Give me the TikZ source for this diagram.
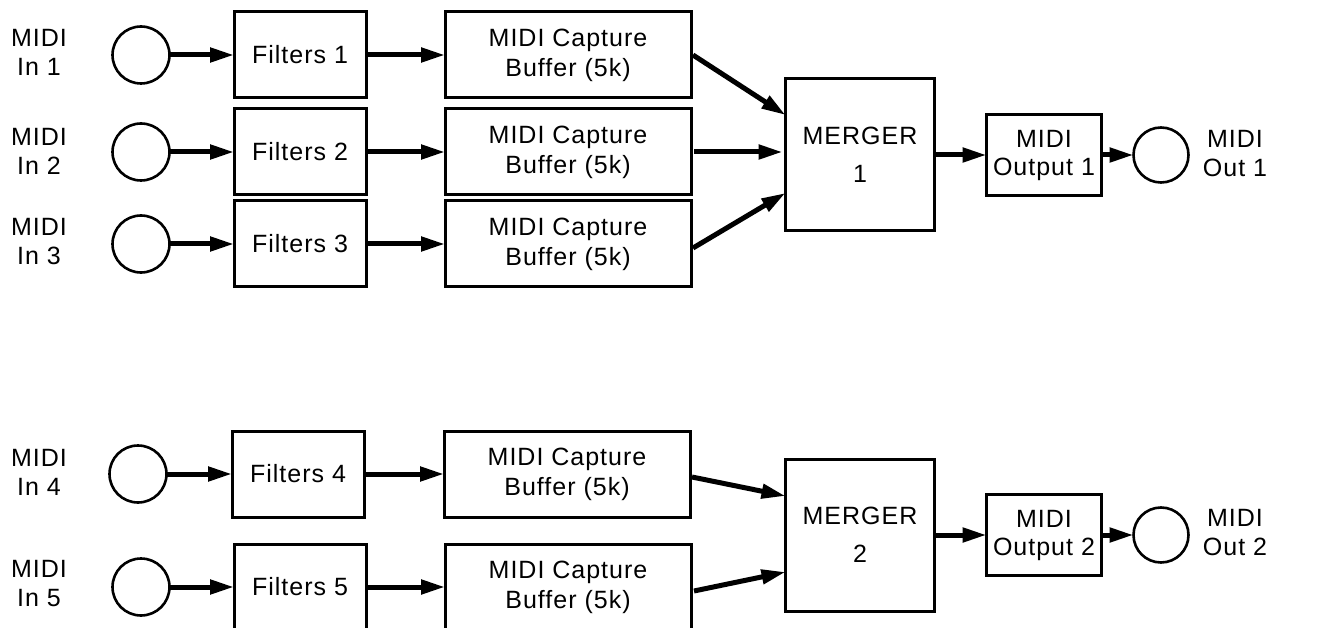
\documentclass[tikz,border=0pt]{standalone}
\usepackage{fontspec}
\setmainfont{Liberation Sans}[LetterSpace=4]
\usetikzlibrary{arrows.meta}
\begin{document}
\begin{tikzpicture}[x=1pt,y=-1pt,
  box/.style={draw, line width=3pt, align=center, inner sep=0pt, outer sep=0pt, font=\fontsize{25}{30}\selectfont},
  filt/.style={box, minimum width=132pt, minimum height=86pt},
  buf/.style={box, minimum width=246pt, minimum height=86pt},
  merger/.style={box, minimum width=149pt, minimum height=152pt, font=\fontsize{25}{38}\selectfont},
  outbox/.style={box, minimum width=115pt, minimum height=81pt, font=\fontsize{25}{28}\selectfont},
  port/.style={draw, circle, line width=2.6pt, inner sep=0pt, outer sep=0pt},
  lbl/.style={align=center, inner sep=0pt, font=\fontsize{25}{29}\selectfont},
  flow/.style={line width=5pt, -{Triangle[length=24pt,width=14pt]}}]
\useasboundingbox (0,0) rectangle (1341,628);
\clip (0,0) rectangle (1341,628);

% ---- upper group ----
\node[lbl] (l1) at (39,52) {MIDI\\In 1};
\node[lbl] (l2) at (39,151) {MIDI\\In 2};
\node[lbl] (l3) at (39,242) {MIDI\\In 3};
\node[port, minimum size=57pt] (i1) at (141,55) {};
\node[port, minimum size=57pt] (i2) at (141,152) {};
\node[port, minimum size=57pt] (i3) at (141,244) {};
\node[filt] (f1) at (300,55) {Filters 1};
\node[filt] (f2) at (300,152) {Filters 2};
\node[filt] (f3) at (300,244) {Filters 3};
\node[buf] (c1) at (568,55) {MIDI Capture\\Buffer (5k)};
\node[buf] (c2) at (568,152) {MIDI Capture\\Buffer (5k)};
\node[buf] (c3) at (568,244) {MIDI Capture\\Buffer (5k)};
\node[merger] (m1) at (860,155) {MERGER\\1};
\node[outbox] (o1) at (1044,155) {MIDI\\Output 1};
\node[port, minimum size=55pt] (p1) at (1161,155) {};
\node[lbl] (r1) at (1235,154) {MIDI\\Out 1};

\draw[flow] (i1) -- (f1);
\draw[flow] (i2) -- (f2);
\draw[flow] (i3) -- (f3);
\draw[flow] (f1) -- (c1);
\draw[flow] (f2) -- (c2);
\draw[flow] (f3) -- (c3);
\draw[flow] ([xshift=2pt]c1.east) -- ([yshift=40pt]m1.west);
\draw[flow] ([xshift=3pt]c2.east) -- ([xshift=-3pt]c2.east -| m1.west);
\draw[flow] ([xshift=2pt,yshift=-4pt]c3.east) -- ([yshift=-38pt]m1.west);
\draw[flow] (m1) -- (o1);
\draw[flow] (o1) -- (p1);

% ---- lower group ----
\node[lbl] (l4) at (39,472) {MIDI\\In 4};
\node[lbl] (l5) at (39,584) {MIDI\\In 5};
\node[port, minimum size=57pt] (i4) at (138,474) {};
\node[port, minimum size=57pt] (i5) at (141,587) {};
\node[filt] (f4) at (298,474) {Filters 4};
\node[filt] (f5) at (300,587) {Filters 5};
\node[buf] (c4) at (567,474) {MIDI Capture\\Buffer (5k)};
\node[buf] (c5) at (568,587) {MIDI Capture\\Buffer (5k)};
\node[merger] (m2) at (860,535) {MERGER\\2};
\node[outbox] (o2) at (1044,535) {MIDI\\Output 2};
\node[port, minimum size=55pt] (p2) at (1161,535) {};
\node[lbl] (r2) at (1235,533) {MIDI\\Out 2};

\draw[flow] (i4) -- (f4);
\draw[flow] (i5) -- (f5);
\draw[flow] (f4) -- (c4);
\draw[flow] (f5) -- (c5);
\draw[flow] ([xshift=2pt,yshift=-3pt]c4.east) -- ([yshift=39pt]m2.west);
\draw[flow] ([xshift=3pt,yshift=-4pt]c5.east) -- ([yshift=-37pt]m2.west);
\draw[flow] (m2) -- (o2);
\draw[flow] (o2) -- (p2);
\end{tikzpicture}
\end{document}
